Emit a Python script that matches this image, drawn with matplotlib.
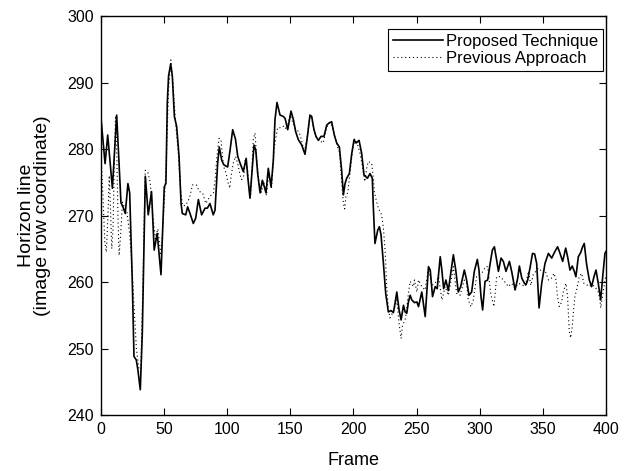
import matplotlib
matplotlib.use("Agg")
import matplotlib.pyplot as plt

plt.rcParams['font.family'] = ['Liberation Sans', 'DejaVu Sans']

# Proposed Technique (solid)
solid_frame = [0, 3.2, 5.3, 9, 12.4, 15.8, 17.2, 19.2, 21.3, 22.7, 24.8, 26.1, 27.9, 29.2, 31.1,
               32.7, 35.1, 37.4, 40, 42.1, 44.5, 47.5, 50.1, 51.4, 52.5, 53.5, 55.2, 56.5, 58.1,
               59.9, 61.8, 63.4, 64.4, 67.1, 68.6, 70.5, 73.1, 75, 77.1, 79.7, 82.4, 84.2, 86.3,
               88.9, 90.3, 92.4, 93.7, 95.6, 97.4, 100.3, 102.2, 104.3, 106.5, 108.3, 110.1,
               112.7, 115, 116.2, 118, 121.2, 122.6, 124.1, 126, 127.8, 129.4, 130.7, 132.5,
               134.7, 136.5, 137.8, 139.4, 141.8, 144.4, 145.8, 147.9, 150.5, 152.4, 154.2,
               156.3, 159, 161.6, 163.7, 165.5, 166.9, 168.7, 170.3, 172.2, 174.3, 176.6, 178.8,
               180.6, 182.7, 184.8, 186.7, 188.8, 190.6, 192, 193.3, 194.6, 196.7, 198.6, 200.4,
               202, 204.4, 206.5, 208.3, 211, 213.1, 214.9, 215.7, 217, 219.2, 220.5, 221.8,
               223.7, 225.5, 227.6, 229.7, 231.6, 232.9, 234.3, 236.1, 237.7, 239.6, 240.9,
               242.2, 243.5, 244.9, 246.2, 248.3, 250.2, 251.5, 254.1, 256.8, 259.4, 260.8,
               262.6, 264.7, 266.3, 268.7, 270, 271.4, 273.2, 275.1, 277, 279.1, 281, 283, 284.9,
               287.8, 289.6, 291.5, 293.6, 295.7, 298.1, 299.4, 301, 302.3, 304.2, 306.3, 308.1,
               310, 311.6, 313.4, 314.8, 316.9, 318.7, 320.8, 323.5, 325.3, 328, 330.1, 331.4,
               333.3, 335.4, 336.7, 338, 339.9, 341.8, 343.5, 345.1, 347, 349.1, 351.7, 354.4,
               357, 359.6, 361.7, 363.6, 365.7, 368.1, 369.6, 371.5, 373.3, 374.9, 376.2, 378.1,
               379.9, 381.5, 382.8, 384.7, 386.8, 388.6, 390.5, 392.1, 393.9, 395.8, 397.4,
               399.2, 400]
solid_value = [284.6, 277.8, 282.1, 274.1, 285.1, 271.9, 271.4, 270.3, 274.8, 273.4, 259.8, 248.8,
               248.3, 246.8, 243.8, 252.3, 275.9, 270.1, 273.6, 264.8, 267.3, 261.1, 274.3, 274.8,
               287, 291, 292.8, 290.9, 284.9, 283.4, 278.9, 271.8, 270.3, 270.1, 271.3, 270.3,
               268.8, 269.6, 272.4, 270.1, 271.1, 271.1, 271.8, 270.1, 270.8, 277.9, 280.3, 278.3,
               277.6, 277.3, 279.8, 282.9, 281.5, 278.9, 277.9, 276.6, 278.6, 275.9, 272.6, 280.6,
               279.8, 276.3, 273.4, 275.3, 274.3, 273.4, 277.1, 274.3, 278.3, 284.4, 287.0, 285.1,
               284.9, 284.6, 282.9, 285.7, 284.4, 282.6, 281.4, 280.6, 279.2, 282.2, 285.1, 284.9,
               282.9, 281.9, 281.3, 281.9, 281.9, 283.6, 283.9, 284.1, 282.1, 280.9, 280.3, 276.8,
               273.1, 274.8, 275.6, 276.3, 279.3, 281.4, 280.9, 281.3, 279.3, 276.1, 275.6, 276.3,
               275.6, 271.3, 265.8, 267.8, 268.3, 267.1, 262.8, 258.3, 255.5, 255.7, 255.4, 256.8,
               258.5, 255.8, 254.3, 256.5, 255.5, 255.3, 257.0, 258.0, 257.3, 256.9, 257.0, 256.3,
               258.5, 254.8, 262.3, 261.8, 257.8, 259.3, 259.0, 263.8, 261.8, 259.0, 260.3, 258.7,
               261.3, 264.1, 261.8, 258.5, 259.3, 261.8, 260.3, 258.0, 258.5, 261.6, 263.4, 261.8,
               257.8, 255.8, 260.1, 260.3, 262.6, 264.8, 265.3, 263.3, 261.6, 263.6, 263.1, 261.6,
               263.1, 261.6, 258.8, 260.6, 262.4, 260.6, 259.8, 259.6, 260.3, 262.2, 264.3, 264.2,
               262.8, 256.1, 259.8, 262.8, 264.3, 263.6, 264.6, 265.3, 264.3, 263.1, 265.1, 263.8,
               261.8, 262.4, 261.6, 260.8, 263.8, 264.4, 265.3, 265.8, 262.6, 260.3, 259.3, 260.8,
               261.8, 259.8, 257.3, 260.8, 264.3, 264.6]

# Previous Approach (dotted)
dotted_frame = [0, 1.5, 3, 4.2, 5.5, 6.5, 7.5, 8.5, 9.5, 10.5, 11.5, 12.5, 13.5, 14.3, 15.5, 17,
                19, 20.5, 22.5, 24, 26, 28, 30, 31.5, 33, 35, 37, 39, 41, 43, 45, 47.5, 49.5, 51.5,
                53.5, 55.3, 57, 59, 61, 63, 64.5, 67, 70, 72.5, 75.5, 78, 80.5, 83, 86, 89, 90.5,
                91.8, 93.5, 95, 97, 99, 100.5, 102, 103.2, 104.8, 106.6, 108.8, 110.1, 111.4,
                113.3, 114.3, 116, 117.2, 118.5, 120.7, 122, 123.3, 125, 127, 129, 131, 133, 135,
                137, 139.9, 143.1, 145, 147.1, 149.7, 152, 154, 156.8, 158.4, 161, 163.5, 165.5,
                167, 169, 171, 173, 176, 178.8, 181, 183, 185, 187, 189, 190.6, 192, 193, 194,
                195.5, 197, 199, 201, 203, 205, 207, 209, 210.4, 211.7, 214.4, 215.7, 216.5,
                217.6, 219.7, 222.3, 223.7, 225, 226.3, 227.6, 228.9, 231.6, 234.3, 236.1, 237.7,
                238.7, 240.3, 241.3, 243.5, 244.9, 247.5, 248.3, 250.2, 251.5, 254.1, 256.8,
                259.4, 262.1, 264.7, 267.4, 270, 272.6, 275.1, 277.8, 279.1, 281.7, 284.4, 287.8,
                289.6, 290.9, 293.1, 294.9, 297.5, 301.5, 304.7, 306.3, 308.9, 311.3, 313.4,
                316.1, 318.7, 322.7, 325.3, 328, 330.6, 333.3, 335.9, 338.6, 340.5, 342.4, 346.4,
                349.1, 351.7, 354.4, 357, 358.8, 360.4, 361.5, 363, 364.9, 366.2, 368.3, 369.6,
                370.9, 372, 373.3, 374.1, 375.4, 376.7, 378.8, 380.7, 382.5, 384.7, 386.8, 388.6,
                391.3, 393.9, 395.3, 395.8, 397.4, 399.2, 400]
dotted_value = [279, 273, 266, 264.5, 270, 276, 271, 265, 268, 278, 285, 279, 269, 264, 267, 272,
                271, 270.5, 267.5, 264, 257, 250, 247, 246.5, 258, 276.8, 276.5, 275, 270, 266.5,
                268, 264, 270, 277, 289, 293.4, 290, 284, 280, 274, 271.5, 271.5, 272.6, 274.6,
                274.6, 273.6, 273.4, 271.8, 272.8, 273.4, 275.6, 278.9, 281.6, 281.4, 277.4, 276.4,
                275, 274.1, 276.1, 277.9, 278.9, 277.4, 276.1, 275.4, 276.1, 278.6, 277, 274.1,
                272.9, 281.6, 282.4, 278.6, 275, 273.5, 275, 273, 276.5, 274, 280, 283.2, 283.2,
                283.5, 282.9, 285.1, 284, 283, 282.6, 281.6, 279.5, 282, 285, 284.5, 282.5, 281.5,
                281.3, 280.9, 283.3, 284, 283.5, 282, 280.5, 279.5, 275, 271.8, 271.0, 272.8,
                273.5, 276, 279.5, 281.5, 280.8, 279.5, 277.5, 275.1, 277.1, 278.1, 277.9, 275.6,
                273.6, 272.6, 271.1, 270.1, 268.1, 264.8, 259.3, 255.9, 254.6, 255.6, 257.3, 253.8,
                251.5, 253.3, 254.1, 254.6, 258.3, 260.1, 259.3, 260.3, 258.5, 260.3, 259.3, 258.8,
                262.1, 259.5, 259.8, 260.8, 257.3, 259.3, 258.0, 260.8, 262.3, 258.3, 258.0, 260.3,
                259.8, 257.3, 256.3, 257.3, 260.8, 261.3, 262.3, 262.3, 258.0, 256.3, 260.8, 260.8,
                260.3, 259.3, 259.8, 259.1, 259.8, 259.6, 259.3, 261.6, 259.5, 261.1, 262.1, 261.6,
                261.8, 260.3, 260.6, 261.3, 260.3, 258.0, 256.3, 257.0, 258.5, 259.8, 257.8, 252.6,
                251.6, 253.3, 255.3, 257.8, 258.8, 260.8, 261.3, 259.8, 259.6, 259.3, 259.6, 259.3,
                258.5, 257.3, 256.1, 258.0, 260.3, 261]

fig = plt.figure(figsize=(6.33, 4.71), dpi=100)
ax = fig.add_axes([0.1596, 0.1189, 0.7977, 0.8471])

ax.plot(solid_frame, solid_value, color="k", linewidth=1.2, label="Proposed Technique")
ax.plot(dotted_frame, dotted_value, color="k", linewidth=0.8, linestyle=(0, (1, 2.5)),
        label="Previous Approach")

ax.set_xlim(0, 400)
ax.set_ylim(240, 300)
ax.set_xticks(range(0, 401, 50))
ax.set_yticks(range(240, 301, 10))
ax.tick_params(direction="in", length=5, width=0.8, top=True, right=True, labelsize=11.5,
               colors="k", pad=5)
for s in ax.spines.values():
    s.set_linewidth(1.0)

ax.set_xlabel("Frame", fontsize=13, labelpad=11)
ax.set_ylabel("Horizon line\n(image row coordinate)", fontsize=14, labelpad=12, linespacing=0.9)

leg = ax.legend(loc="upper right", bbox_to_anchor=(0.994, 0.967), borderaxespad=0,
                fancybox=False, framealpha=1, edgecolor="k", fontsize=12, handlelength=3.0,
                borderpad=0.3, labelspacing=0.1, handletextpad=0.15)
leg.get_frame().set_linewidth(0.8)

fig.savefig("out.png", dpi=100)
